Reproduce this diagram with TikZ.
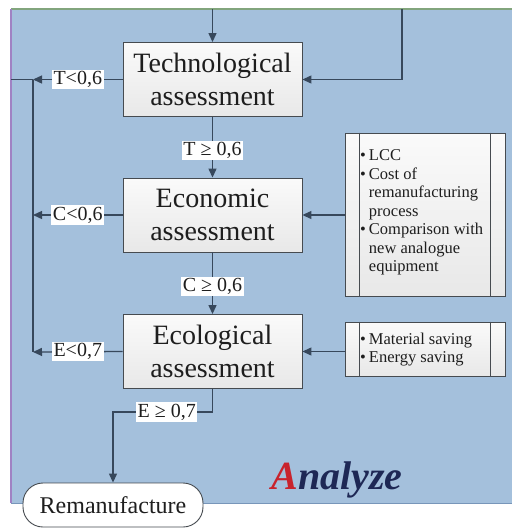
\documentclass[tikz,border=0pt]{standalone}
\usepackage{fontspec}
\setmainfont{Liberation Serif}
\usetikzlibrary{arrows.meta,calc}

\definecolor{panel}{RGB}{164,192,220}
\definecolor{panelrim}{RGB}{120,150,185}
\definecolor{leftrim}{RGB}{160,130,195}
\definecolor{toprim}{RGB}{130,165,125}
\definecolor{flowcol}{RGB}{55,72,92}
\definecolor{boxedge}{RGB}{70,75,80}
\definecolor{boxtop}{RGB}{250,250,250}
\definecolor{boxbottom}{RGB}{232,232,232}
\definecolor{inkdark}{RGB}{30,30,30}
\definecolor{logored}{RGB}{200,35,45}
\definecolor{logonavy}{RGB}{30,40,85}

\tikzset{
  flow/.style={draw=flowcol, line width=1.3pt},
  arrowflow/.style={flow, -{Triangle[length=9pt,width=8pt]}},
  assess/.style={draw=boxedge, line width=0.9pt, top color=boxtop, bottom color=boxbottom,
    minimum width=179pt, minimum height=74pt, inner sep=0pt, align=center,
    text=inkdark, font=\fontsize{28}{33}\selectfont},
  infobox/.style={draw=boxedge, line width=0.9pt, top color=boxtop, bottom color=boxbottom,
    minimum width=160pt, inner sep=0pt},
  infotext/.style={inner sep=0pt, text=inkdark, font=\fontsize{16.5}{18.5}\selectfont},
  cond/.style={fill=white, inner sep=1.5pt, text=inkdark, font=\fontsize{20}{22}\selectfont},
  endbox/.style={draw=boxedge, line width=0.9pt, fill=white, rounded corners=20pt,
    minimum width=180pt, minimum height=44pt, inner sep=0pt, text=inkdark,
    font=\fontsize{24}{26}\selectfont},
  innerrule/.style={draw=boxedge, line width=0.9pt}
}

\begin{document}
\begin{tikzpicture}[x=1pt,y=-1pt]
\useasboundingbox (0,0) rectangle (512,528);
\fill[white] (0,0) rectangle (512,528);

% blue working panel with its coloured rims
\fill[panel] (11,9) rectangle (512,503);
\draw[panelrim, line width=1pt] (11,503) -- (512,503);
\draw[toprim, line width=1.5pt] (11,9) -- (512,9);
\draw[leftrim, line width=1.8pt] (11,503) -- (11,9);

% assessment stages
\node[assess] (tech) at (212.5,79.5) {Technological\\assessment};
\node[assess] (econ) at (212.5,215) {Economic\\assessment};
\node[assess] (eco)  at (212.5,351.5) {Ecological\\assessment};

% criteria boxes
\node[infobox, minimum height=163pt] (lcc) at (425,214.5) {};
\node[infobox, minimum height=54pt]  (sav) at (425,349) {};
\foreach \b in {lcc,sav}{
  \draw[innerrule] ($(\b.north west)+(15,0)$) -- ($(\b.south west)+(15,0)$);
  \draw[innerrule] ($(\b.north east)+(-15,0)$) -- ($(\b.south east)+(-15,0)$);
}
\node[infotext, anchor=west] (lcctext) at (360,212.5) {%
  \begin{tabular}{@{}l@{\hspace{3pt}}l@{}}
  \textbullet & LCC\\
  \textbullet & Cost of\\
              & remanufacturing\\
              & process\\
  \textbullet & Comparison with\\
              & new analogue\\
              & equipment
  \end{tabular}};
\node[infotext, anchor=west] (savtext) at (360,350) {%
  \begin{tabular}{@{}l@{\hspace{3pt}}l@{}}
  \textbullet & Material saving\\
  \textbullet & Energy saving
  \end{tabular}};

% final outcome
\node[endbox] (rem) at (113,505) {Remanufacture};

% title
\node[font=\fontsize{40}{40}\selectfont\bfseries\itshape] (title) at (337,480)
  {\textcolor{logored}{A}\textcolor{logonavy}{nalyze}};

% helper points
\coordinate (topin) at (212.5,9);
\coordinate (topr)  at (402,9);
\coordinate (tl)    at (33,79.5);
\coordinate (texit) at (11,79.5);
\coordinate (cl)    at (33,215);
\coordinate (el)    at (33,352);
\coordinate (ebend) at (212.5,412);
\coordinate (rbend) at (113,412);

% incoming flows
\draw[arrowflow] (topin) -- (tech.north);
\draw[arrowflow] (topr) |- (tech.east);

% rejection branch
\draw[arrowflow] (tech.west) -- node[cond]{T<0,6} (tl);
\draw[flow] (tl) -- (texit);
\draw[flow] (tl) -- (el);
\draw[arrowflow] (econ.west) -- node[cond]{C<0,6} (cl);
\draw[arrowflow] (eco.west) -- node[cond]{E<0,7} (el);

% acceptance branch
\draw[arrowflow] (tech.south) -- node[cond, pos=0.55]{T ≥ 0,6} (econ.north);
\draw[arrowflow] (econ.south) -- node[cond, pos=0.55]{C ≥ 0,6} (eco.north);
\draw[arrowflow] (eco.south) -- (ebend) -- node[cond, pos=0.46]{E ≥ 0,7} (rbend) -- (rem.north);

% criteria feeding the stages
\draw[arrowflow] (lcc.west |- econ.east) -- (econ.east);
\draw[arrowflow] (sav.west |- eco.east) -- (eco.east);
\end{tikzpicture}
\end{document}
